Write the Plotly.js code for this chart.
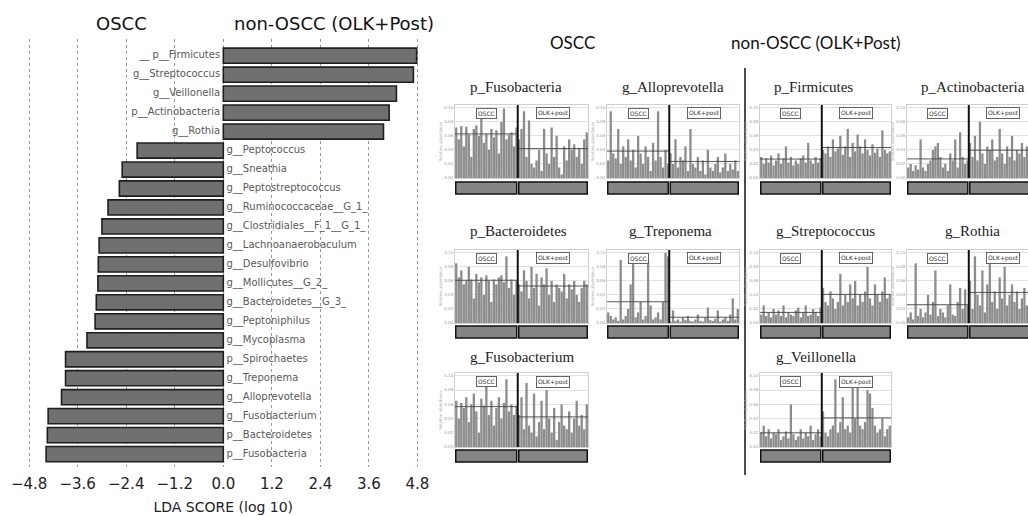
<!DOCTYPE html>
<html><head><meta charset="utf-8">
<script src="https://cdn.plot.ly/plotly-3.0.1.min.js"></script>
<style>html,body{margin:0;padding:0;background:#fff}#c{width:1028px;height:516px}</style>
</head><body><div id="c"></div>
<script>
// ---------- LEfSe LDA data (bottom to top) ----------
const taxa = ['p__Fusobacteria','p__Bacteroidetes','g__Fusobacterium','g__Alloprevotella','g__Treponema',
  'p__Spirochaetes','g__Mycoplasma','g__Peptoniphilus','g__Bacteroidetes__G_3_','g__Mollicutes__G_2_',
  'g__Desulfovibrio','g__Lachnoanaerobaculum','g__Clostridiales__F_1__G_1_','g__Ruminococcaceae__G_1_',
  'g__Peptostreptococcus','g__Sneathia','g__Peptococcus','g__Rothia','p__Actinobacteria','g__Veillonella',
  'g__Streptococcus','__ p__Firmicutes'];
const lda = [-4.38,-4.35,-4.33,-4.00,-3.90,-3.90,-3.37,-3.17,-3.14,-3.10,-3.09,-3.07,-3.00,-2.85,-2.57,-2.50,-2.13,
  3.96,4.10,4.28,4.70,4.78];
const ldaTicks = [-4.8,-3.6,-2.4,-1.2,0,1.2,2.4,3.6,4.8];
const ldaTickText = ['\u22124.8','\u22123.6','\u22122.4','\u22121.2','0.0','1.2','2.4','3.6','4.8'];

// ---------- relative abundance panels ----------
const fusobacteriaOSCC = [0.72,0.55,0.74,0.45,0.73,0.62,0.30,0.70,0.75,0.60,0.92,0.50,0.63,0.40,0.70,0.58,0.68,0.35,0.80,0.99,0.55,0.62,0.65,0.45,0.72];
const fusobacteriaOLK  = [0.55,0.70,0.95,0.30,0.82,0.20,0.15,0.25,0.40,0.10,0.70,0.35,0.20,0.72,0.30,0.60,0.15,0.05,0.45,0.25,0.55,0.40,0.48,0.30,0.42,0.20,0.55,0.65];
const alloOSCC = [0.25,0.95,0.35,0.28,0.70,0.20,0.45,0.30,0.55,0.25,0.40,0.15,0.60,0.35,0.20,0.45,0.30,0.10,0.50,0.25,0.95,0.30,0.15,0.40,0.20];
const alloOLK  = [0.35,0.20,0.55,0.15,0.30,0.25,0.45,0.10,0.70,0.20,0.15,0.30,0.10,0.25,0.05,0.40,0.15,0.10,0.20,0.30,0.08,0.15,0.35,0.10,0.20,0.12,0.25,0.10];
const firmOSCC = [0.30,0.20,0.28,0.22,0.32,0.18,0.25,0.35,0.20,0.28,0.45,0.22,0.30,0.18,0.25,0.20,0.28,0.32,0.22,0.50,0.25,0.20,0.30,0.22,0.28];
const firmOLK  = [0.40,0.35,0.45,0.30,0.55,0.38,0.42,0.60,0.33,0.45,0.70,0.30,0.50,0.38,0.62,0.45,0.35,0.55,0.40,0.32,0.48,0.36,0.42,0.30,0.68,0.40,0.35,0.38];
const actOSCC = [0.15,0.20,0.10,0.18,0.12,0.55,0.15,0.10,0.20,0.25,0.40,0.45,0.50,0.30,0.15,0.20,0.10,0.35,0.25,0.55,0.15,0.65,0.30,0.20,0.25];
const actOLK  = [0.50,0.30,0.60,0.25,0.80,0.35,0.20,0.45,0.40,0.55,0.25,0.30,0.70,0.35,0.20,0.45,0.30,0.60,0.25,0.40,0.35,0.50,0.30,0.45,0.25,0.35,0.40,0.30];
const bactOSCC = [0.85,0.65,0.75,0.55,0.60,0.80,0.62,0.35,0.70,0.58,0.65,0.40,0.68,0.60,0.30,0.62,0.55,0.65,0.68,0.58,0.95,0.50,0.62,0.40,0.60];
const bactOLK  = [0.55,0.45,0.75,0.60,0.35,0.80,0.50,0.70,0.25,0.65,0.55,0.78,0.40,0.60,0.30,0.55,0.50,0.45,0.70,0.35,0.55,0.48,0.60,0.40,0.30,0.50,0.60,0.55];
const trepOSCC = [0.15,0.10,0.05,0.08,0.03,0.90,0.05,0.10,0.20,0.55,0.95,0.08,0.15,0.30,0.05,0.10,0.90,0.25,0.05,0.08,0.15,0.05,0.30,1.00,0.95];
const trepOLK  = [0.02,0.18,0.03,0.05,0.02,0.08,0.04,0.10,0.03,0.02,0.05,0.12,0.03,0.02,0.08,0.22,0.04,0.03,0.06,0.18,0.02,0.05,0.08,0.03,0.12,0.35,0.05,0.20];
const strepOSCC = [0.12,0.25,0.10,0.15,0.08,0.20,0.12,0.18,0.10,0.25,0.08,0.15,0.12,0.10,0.18,0.22,0.08,0.15,0.25,0.10,0.12,0.20,0.15,0.10,0.22];
const strepOLK  = [0.50,0.30,0.25,0.45,0.35,0.20,0.30,0.70,0.25,0.40,0.30,0.55,0.35,0.60,0.25,0.40,0.30,0.45,0.80,0.35,0.25,0.55,0.40,0.30,0.45,0.65,0.35,0.40];
const rothOSCC = [0.08,0.15,0.05,0.85,0.10,0.20,0.08,0.15,0.40,0.12,0.30,0.75,0.10,0.20,0.15,0.08,0.25,0.55,0.12,0.10,0.30,0.50,0.20,0.48,0.25];
const rothOLK  = [0.60,0.20,0.95,0.40,0.25,0.75,0.15,0.55,0.85,0.30,0.45,0.20,0.65,0.35,0.80,0.25,0.40,0.55,0.30,0.45,0.20,0.35,0.50,0.25,0.40,0.30,0.45,0.35];
const fusoOSCC = [0.65,0.40,0.62,0.55,0.70,0.35,0.60,0.75,0.50,0.20,0.68,0.58,0.85,0.45,0.65,0.30,0.55,0.70,0.40,0.62,0.95,0.50,0.60,0.45,0.58];
const fusoOLK  = [0.45,0.70,0.25,0.90,0.30,0.20,0.75,0.15,0.35,0.65,0.25,0.80,0.40,0.20,0.55,0.10,0.35,0.60,0.30,0.25,0.50,0.20,0.40,0.65,0.30,0.45,0.25,0.60];
const veilOSCC = [0.20,0.30,0.15,0.25,0.12,0.20,0.18,0.25,0.10,0.15,0.22,0.12,0.60,0.18,0.10,0.15,0.25,0.12,0.20,0.15,0.30,0.10,0.18,0.25,0.15];
const veilOLK  = [0.50,0.20,0.15,0.25,0.30,0.95,0.20,0.35,0.70,0.25,0.30,0.20,0.95,0.40,0.90,0.30,0.25,0.35,0.80,0.75,0.55,0.30,0.20,0.25,0.40,0.15,0.25,0.30];
const abTickVals = [0,0.2,0.4,0.6,0.8,1.0];
const abTickText = ['0.00','0.02','0.04','0.06','0.08','0.10'];

const W = 1028, H = 516;
const px = x => x / W, py = y => 1 - y / H;

// panel layout (pixel boxes)
const rows = [{t:87, y0:105, y1:178, b0:182, b1:194},
              {t:231,y0:250, y1:323, b0:326, b1:338},
              {t:357,y0:373, y1:447, b0:450, b1:462}];
const cols = [{x0:455,x1:588},{x0:607,x1:739},{x0:760,x1:891},{x0:907,x1:1038}];
const panels = [
  {name:'p_Fusobacteria', r:0,c:0, dx:-6, a:fusobacteriaOSCC, b:fusobacteriaOLK},
  {name:'g_Alloprevotella', r:0,c:1, dx:0, a:alloOSCC, b:alloOLK},
  {name:'p_Firmicutes', r:0,c:2, dx:-12, a:firmOSCC, b:firmOLK},
  {name:'p_Actinobacteria', r:0,c:3, dx:0, a:actOSCC, b:actOLK},
  {name:'p_Bacteroidetes', r:1,c:0, dx:-3, a:bactOSCC, b:bactOLK},
  {name:'g_Treponema', r:1,c:1, dx:-3, a:trepOSCC, b:trepOLK},
  {name:'g_Streptococcus', r:1,c:2, dx:0, a:strepOSCC, b:strepOLK},
  {name:'g_Rothia', r:1,c:3, dx:0, a:rothOSCC, b:rothOLK},
  {name:'g_Fusobacterium', r:2,c:0, dx:0, a:fusoOSCC, b:fusoOLK},
  {name:'g_Veillonella', r:2,c:2, dx:-10, a:veilOSCC, b:veilOLK}
];

const data = [];
const shapes = [];
const annotations = [];
const layout = {
  width:W, height:H, margin:{l:0,r:0,t:0,b:0}, showlegend:false,
  paper_bgcolor:'#fff', plot_bgcolor:'rgba(0,0,0,0)', bargap:0.08,
  font:{family:'DejaVu Sans', color:'#222'}
};

// ---------- LDA bar chart ----------
const idx = taxa.map((_, i) => i);
data.push({type:'bar', orientation:'h', x:lda, y:idx, width:0.8,
  marker:{color:'#707070', line:{color:'#1e1e1e', width:1.6}}, xaxis:'x', yaxis:'y', hoverinfo:'skip'});
data.push({type:'scatter', mode:'text', x:lda.map(() => 0), y:idx,
  text:taxa.map((t, i) => lda[i] > 0 ? t + ' ' : ' ' + t),
  textposition:lda.map(v => v > 0 ? 'middle left' : 'middle right'),
  textfont:{family:'DejaVu Sans', size:10, color:'#5a5a5a'}, xaxis:'x', yaxis:'y', hoverinfo:'skip', cliponaxis:false});
const zero = 223.3, ppu = 40.45;
layout.xaxis = {domain:[px(zero - 4.95*ppu), px(zero + 4.95*ppu)], range:[-4.95,4.95], anchor:'y',
  tickvals:ldaTicks, ticktext:ldaTickText, showgrid:true, gridcolor:'#9a9a9a', griddash:'dot', gridwidth:1,
  zeroline:false, showline:false, ticks:'', ticklabelstandoff:6, tickfont:{size:15, color:'#222'},
  title:{text:'LDA SCORE (log 10)', font:{size:14, color:'#222'}, standoff:10}};
layout.yaxis = {domain:[py(467), py(39)], range:[-0.68, 21.88], anchor:'x', showticklabels:false,
  showgrid:false, zeroline:false, showline:false, ticks:''};

const hdr = (x, y, t, fam, sz) => annotations.push({xref:'paper', yref:'paper', x:px(x), y:py(y),
  xanchor:'center', yanchor:'middle', text:t, showarrow:false, font:{family:fam, size:sz, color:'#111'}});
hdr(121, 24, 'OSCC', 'DejaVu Sans', 18);
hdr(334, 24, 'non-OSCC (OLK+Post)', 'DejaVu Sans', 18);
hdr(572, 42, 'OSCC', 'Lato', 17);
hdr(816, 42, 'non-OSCC (OLK+Post)', 'Lato', 17);
shapes.push({type:'line', xref:'paper', yref:'paper', x0:px(745), x1:px(745), y0:py(68), y1:py(475),
  line:{color:'#111', width:1.5}});

// ---------- small multiples ----------
const mean = arr => arr.reduce((s, v) => s + v, 0) / arr.length;
panels.forEach((p, i) => {
  const k = i + 2, xa = 'x' + k, ya = 'y' + k;
  const R = rows[p.r], C = cols[p.c];
  const nA = p.a.length, nB = p.b.length, n = nA + nB;
  const right = Math.min(C.x1, W);
  const visFrac = (right - C.x0) / (C.x1 - C.x0);
  layout['xaxis' + k] = {domain:[px(C.x0), px(right)], range:[-0.5, -0.5 + n * visFrac], anchor:ya,
    showticklabels:false, showgrid:false, zeroline:false, ticks:'', showline:true, mirror:true,
    linecolor:'#cfcfcf', linewidth:1};
  layout['yaxis' + k] = {domain:[py(R.y1), py(R.y0)], range:[0, 1.04], anchor:xa,
    tickvals:abTickVals, ticktext:abTickText, tickfont:{size:4, color:'#999'}, ticks:'',
    showgrid:true, gridcolor:'#e2e2e2', gridwidth:1, zeroline:false, showline:true, mirror:true,
    linecolor:'#cfcfcf', linewidth:1,
    title:{text:'Relative abundance', font:{size:4, color:'#aaa'}, standoff:1}};
  data.push({type:'bar', x:p.a.map((_, j) => j), y:p.a, xaxis:xa, yaxis:ya,
    marker:{color:'#8c8c8c'}, hoverinfo:'skip'});
  data.push({type:'bar', x:p.b.map((_, j) => nA + j), y:p.b, xaxis:xa, yaxis:ya,
    marker:{color:'#8c8c8c'}, hoverinfo:'skip'});
  const mA = mean(p.a), mB = mean(p.b);
  data.push({type:'scatter', mode:'lines', x:[-0.5, nA - 0.5], y:[mA, mA], xaxis:xa, yaxis:ya,
    line:{color:'#444', width:0.9}, hoverinfo:'skip'});
  data.push({type:'scatter', mode:'lines', x:[nA - 0.5, n - 0.5], y:[mB, mB], xaxis:xa, yaxis:ya,
    line:{color:'#444', width:0.9}, hoverinfo:'skip'});
  shapes.push({type:'line', xref:xa, yref:ya + ' domain', x0:nA - 0.5, x1:nA - 0.5, y0:0, y1:1,
    line:{color:'#111', width:2}});
  shapes.push({type:'rect', xref:xa, yref:'paper', x0:-0.2, x1:nA - 0.9, y0:py(R.b1), y1:py(R.b0),
    fillcolor:'#858585', line:{color:'#111', width:1.5}});
  shapes.push({type:'rect', xref:xa, yref:'paper', x0:nA - 0.1, x1:n - 0.8, y0:py(R.b1), y1:py(R.b0),
    fillcolor:'#858585', line:{color:'#111', width:1.5}});
  annotations.push({xref:xa, yref:ya, x:(nA - 1) / 2, y:0.92, text:'OSCC', showarrow:false,
    font:{size:6, color:'#333'}, bgcolor:'#fff', bordercolor:'#555', borderwidth:0.9, borderpad:1});
  annotations.push({xref:xa, yref:ya, x:nA + (nB - 1) / 2, y:0.92, text:'OLK+post', showarrow:false,
    font:{size:6, color:'#333'}, bgcolor:'#fff', bordercolor:'#555', borderwidth:0.9, borderpad:1});
  annotations.push({xref:'paper', yref:'paper', x:px((C.x0 + C.x1) / 2 + p.dx), y:py(R.t), xanchor:'center',
    yanchor:'middle', text:p.name, showarrow:false, font:{family:'Liberation Serif', size:15, color:'#222'}});
});

layout.shapes = shapes;
layout.annotations = annotations;
Plotly.newPlot('c', data, layout, {staticPlot:true, displayModeBar:false});
</script>
</body></html>
